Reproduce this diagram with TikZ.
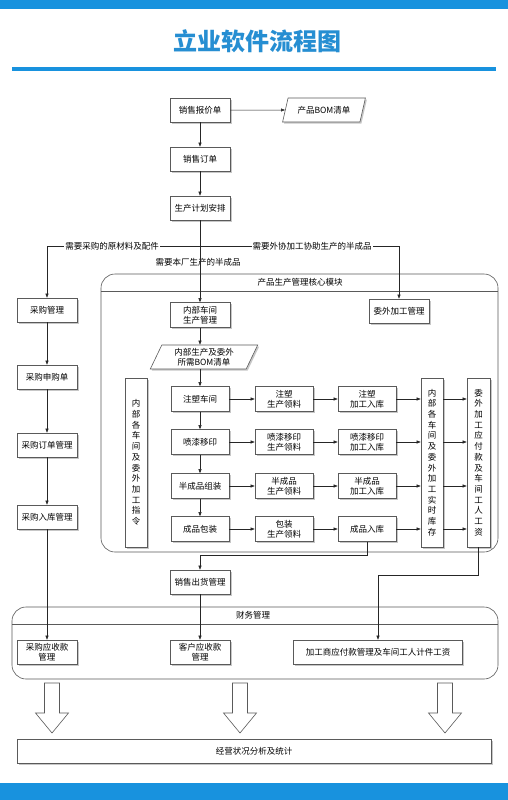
\documentclass[tikz,border=0pt]{standalone}
\usepackage{fontspec}
\setmainfont{Noto Sans CJK SC}
\usetikzlibrary{shapes.geometric,arrows.meta,shadows}
\definecolor{bandblue}{RGB}{24,146,222}
\definecolor{titleblue}{RGB}{38,142,210}
\definecolor{edgegray}{RGB}{90,90,90}
\tikzset{
  shad/.style={drop shadow={shadow xshift=1.5pt,shadow yshift=-1.5pt,fill=black!22,opacity=1}},
  box/.style={draw=edgegray,fill=white,line width=0.6pt,minimum width=60pt,minimum height=24pt,
    inner sep=1pt,align=center,font=\fontsize{8.5}{10}\selectfont,shad},
  rbox/.style={box,minimum width=58pt,minimum height=25pt},
  vbox/.style={box,minimum width=22pt,minimum height=169pt,font=\fontsize{8.5}{10.7}\selectfont},
  para/.style={trapezium,trapezium left angle=67,trapezium right angle=113,trapezium stretches=true,
    draw=edgegray,fill=white,line width=0.6pt,minimum height=24pt,inner sep=1pt,align=center,
    font=\fontsize{8.5}{10}\selectfont,shad},
  arr/.style={-{Triangle[length=4pt,width=3pt]},line width=0.5pt,draw=black!85},
  ln/.style={line width=0.5pt,draw=black!85},
  lbl/.style={font=\fontsize{8.5}{10}\selectfont,inner sep=1pt},
  frame/.style={draw=edgegray,line width=0.6pt,rounded corners=14pt},
  blockarrow/.style={draw=edgegray,fill=white,line width=0.6pt}
}
\begin{document}
\begin{tikzpicture}[x=1pt,y=-1pt]
\useasboundingbox (0,0) rectangle (508,800);
\fill[white] (0,0) rectangle (508,800);
% bands and title
\fill[bandblue] (0,0) rectangle (508,9);
\fill[bandblue] (0,783) rectangle (508,800);
\node[font=\fontsize{24}{26}\selectfont\bfseries,text=titleblue] (title) at (257,41) {立业软件流程图};
\draw[bandblue,line width=4pt] (12,69) -- (496,69);

% frames
\draw[frame] (101,274) rectangle (498,552);
\draw[edgegray,line width=0.6pt] (101,291) -- (498,291);
\node[lbl] (modt) at (300,282) {产品生产管理核心模块};
\draw[frame] (12,607) rectangle (498,679);
\draw[edgegray,line width=0.6pt] (12,624) -- (498,624);
\node[lbl] (fint) at (253,615) {财务管理};

% top chain
\node[box] (bj) at (200,110) {销售报价单};
\node[para,minimum width=83pt] (bom) at (324,110) {产品BOM清单};
\node[box] (dd) at (200,159) {销售订单};
\node[box] (jh) at (200,208) {生产计划安排};
\draw[arr] (bj) -- (bom);
\draw[arr] (bj) -- (dd);
\draw[arr] (dd) -- (jh);

% branch line
\coordinate (hl) at (47,246);
\coordinate (hr) at (399,246);
\node[box] (cg) at (47,310) {采购管理};
\node[box] (ww) at (399,311) {委外加工管理};
\node[box,minimum height=25pt] (nb) at (200,315) {内部车间\\生产管理};
\draw[ln] (hl) -- (hr);
\draw[arr] (hl) -- (cg.north);
\draw[arr] (hr) -- (ww.north);
\node[lbl,fill=white] (l1) at (112,246) {需要采购的原材料及配件};
\node[lbl,fill=white] (l2) at (312,246) {需要外协加工协助生产的半成品};
\node[lbl] (l3) at (198,262) {需要本厂生产的半成品};
\draw[arr] (jh) -- (nb);

% inner module
\node[para,minimum width=108pt] (pb) at (204,357) {内部生产及委外\\所需BOM清单};
\draw[arr] (nb.south) -- (nb.south |- pb.north);

\node[rbox] (r1a) at (200,399) {注塑车间};
\node[rbox] (r1b) at (284,399) {注塑\\生产领料};
\node[rbox] (r1c) at (367,399) {注塑\\加工入库};
\node[rbox] (r2a) at (200,442) {喷漆移印};
\node[rbox] (r2b) at (284,442) {喷漆移印\\生产领料};
\node[rbox] (r2c) at (367,442) {喷漆移印\\加工入库};
\node[rbox] (r3a) at (200,486) {半成品组装};
\node[rbox] (r3b) at (284,486) {半成品\\生产领料};
\node[rbox] (r3c) at (367,486) {半成品\\加工入库};
\node[rbox] (r4a) at (200,529) {成品包装};
\node[rbox] (r4b) at (284,529) {包装\\生产领料};
\node[rbox] (r4c) at (367,529) {成品入库};
\draw[arr] (r1a.north |- pb.south) -- (r1a.north);

\node[vbox] (zl) at (136,462.5) {内\\部\\各\\车\\间\\及\\委\\外\\加\\工\\指\\令};
\node[vbox] (kc) at (432,462.5) {内\\部\\各\\车\\间\\及\\委\\外\\加\\工\\实\\时\\库\\存};
\node[vbox,minimum width=23pt] (wf) at (478.5,462.5) {委\\外\\加\\工\\应\\付\\款\\及\\车\\间\\工\\人\\工\\资};

\draw[arr] (r1a) -- (r2a);
\draw[arr] (r2a) -- (r3a);
\draw[arr] (r3a) -- (r4a);
\foreach \r in {1,2,3,4}{
  \draw[arr] (r\r a) -- (r\r b);
  \draw[arr] (r\r b) -- (r\r c);
  \draw[arr] (r\r c.east) -- (r\r c.east -| kc.west);
  \draw[arr] (r\r c.east -| kc.east) -- (r\r c.east -| wf.west);
}

% left chain
\node[box] (sg) at (47,377) {采购申购单};
\node[box] (gd) at (47,445) {采购订单管理};
\node[box] (rk) at (47,517) {采购入库管理};
\draw[arr] (cg) -- (sg);
\draw[arr] (sg) -- (gd);
\draw[arr] (gd) -- (rk);

% lower part
\node[box] (xs) at (200,582) {销售出货管理};
\draw[arr] (r4c.south) -- ++(0,13) -| (xs.north);

\node[box] (ys) at (47,652) {采购应收款\\管理};
\node[box] (kh) at (200,652) {客户应收款\\管理};
\node[box,minimum width=169pt] (jg) at (378,652) {加工商应付款管理及车间工人计件工资};
\draw[arr] (rk) -- (ys);
\draw[arr] (xs) -- (kh);
\draw[arr] (wf.south) -- ++(0,28) -| (jg.north);

% block arrows
\foreach \c in {52,240,445}{
  \draw[blockarrow] (\c-7.5,683) -- (\c+7.5,683) -- (\c+7.5,713) -- (\c+16.5,713) -- (\c,733)
    -- (\c-16.5,713) -- (\c-7.5,713) -- cycle;
}
\node[box,minimum width=474pt] (tj) at (254,751) {经营状况分析及统计};
\end{tikzpicture}
\end{document}
